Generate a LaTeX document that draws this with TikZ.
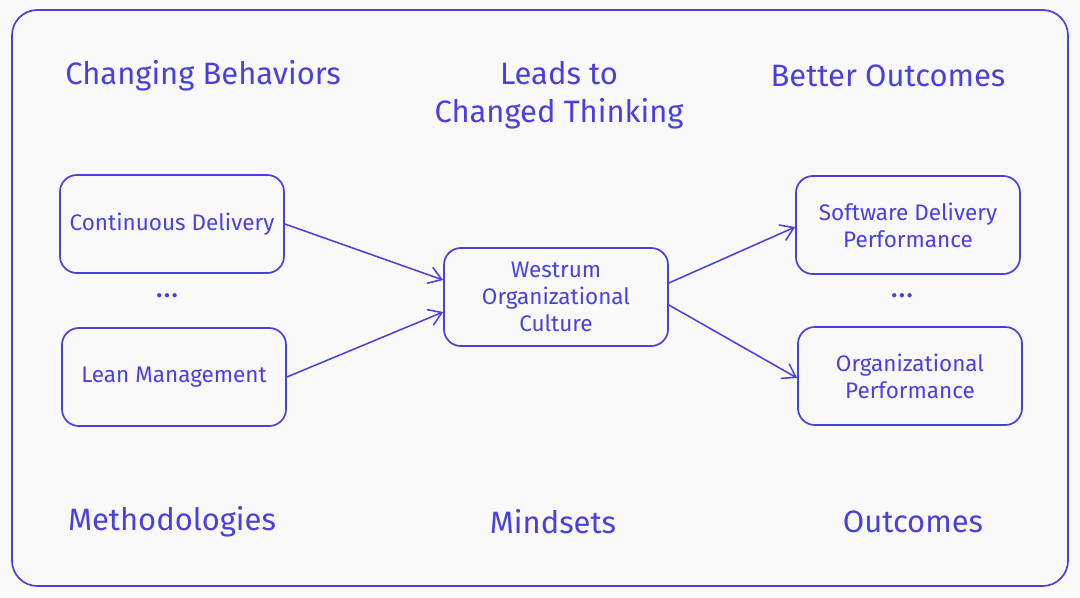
\documentclass[tikz,border=0pt]{standalone}
\usepackage{fontspec}
\setmainfont{Fira Sans}
\usetikzlibrary{arrows.meta,positioning}
\definecolor{ink}{HTML}{4A40E0}
\definecolor{paper}{HTML}{F9F9FA}
\tikzset{
  box/.style={draw=ink,line width=1.2pt,rounded corners=12pt,minimum width=5.6cm,minimum height=2.45cm,align=center,text=ink,font=\fontsize{16}{19}\selectfont},
  head/.style={text=ink,font=\fontsize{22}{27}\selectfont,align=center},
  flow/.style={draw=ink,line width=1.1pt,-{Straight Barb[length=9pt,width=12pt]}},
}
\begin{document}
\begin{tikzpicture}[x=0.025cm,y=-0.025cm]
		\fill[paper] (0,0) rectangle (1080,598);
		\draw[ink,line width=1.2pt,rounded corners=18pt] (12,10) rectangle (1068,586);
		% headings
		\node[head] (hb) at (203,76) {Changing Behaviors};
		\node[head] (ht) at (559,95) {Leads to\\Changed Thinking};
		\node[head] (ho) at (888,76) {Better Outcomes};
		\node[head] (fm) at (172,522) {Methodologies};
		\node[head] (fs) at (553,522) {Mindsets};
		\node[head] (fo) at (913,522) {Outcomes};
		% boxes
		\node[box] (cd) at (172,224) {Continuous Delivery};
		\node[box] (lm) at (174,377) {Lean Management};
		\node[box] (wc) at (556,297) {Westrum\\Organizational\\Culture};
		\node[box] (sd) at (908,225) {Software Delivery\\Performance};
		\node[box] (op) at (910,376) {Organizational\\Performance};
		\node[head] (d1) at (167,296) {\dots};
		\node[head] (d2) at (902,296) {\dots};
		% arrows
		\draw[flow] (cd.east) -- (wc.west|-0,280);
		\draw[flow] (lm.east) -- (wc.west|-0,312);
		\draw[flow] (wc.east|-0,283) -- (sd.west|-0,227);
		\draw[flow] (wc.east|-0,305) -- (op.west|-0,378);
\end{tikzpicture}
\end{document}
